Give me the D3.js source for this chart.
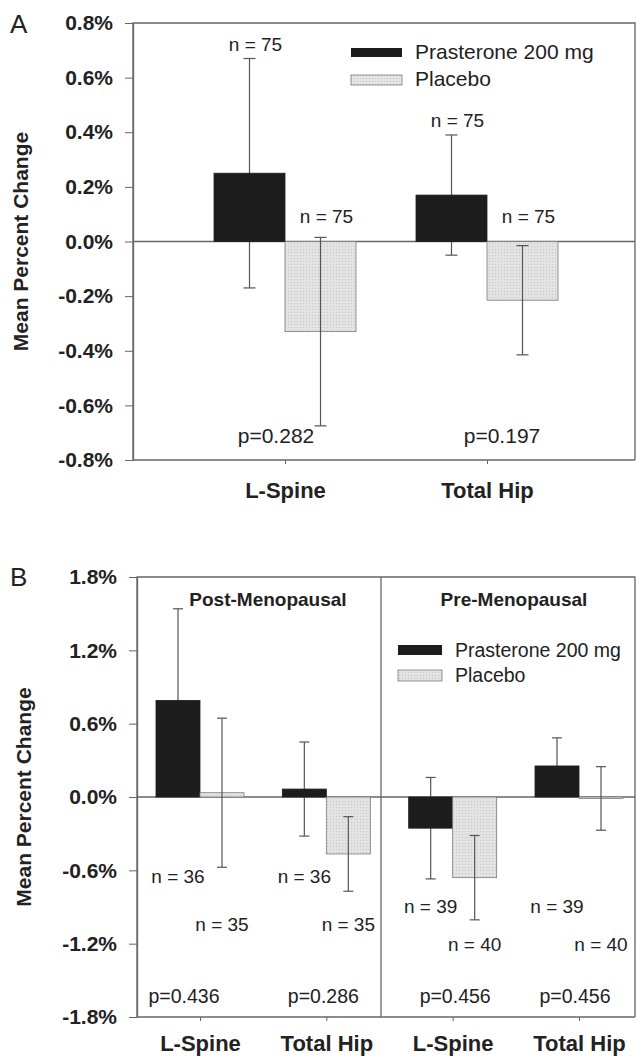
<!DOCTYPE html>
<html>
<head>
<meta charset="utf-8">
<script src="https://cdn.jsdelivr.net/npm/d3@7"></script>
<style>
  body { margin: 0; background: #fff; }
  svg { display: block; font-family: "Liberation Sans", Arial, sans-serif; }
</style>
</head>
<body>
<div id="chart"></div>
<script>
// panel A data
var catsA = ["L-Spine", "Total Hip"];
var prasA = [0.25, 0.17];
var prasErrA = [0.42, 0.22];
var placA = [-0.33, -0.215];
var placErrA = [0.345, 0.2];
var nPrasA = [75, 75];
var nPlacA = [75, 75];
var pA = ["p=0.282", "p=0.197"];
var ticksA = [0.8, 0.6, 0.4, 0.2, 0.0, -0.2, -0.4, -0.6, -0.8];

// panel B data
var groupsB = ["Post-Menopausal", "Pre-Menopausal"];
var catsB = ["L-Spine", "Total Hip", "L-Spine", "Total Hip"];
var prasB = [0.79, 0.065, -0.255, 0.254];
var prasErrB = [0.75, 0.385, 0.415, 0.23];
var placB = [0.035, -0.466, -0.66, -0.012];
var placErrB = [0.61, 0.305, 0.345, 0.26];
var nPrasB = [36, 36, 39, 39];
var nPlacB = [35, 35, 40, 40];
var pB = ["p=0.436", "p=0.286", "p=0.456", "p=0.456"];
var ticksB = [1.8, 1.2, 0.6, 0.0, -0.6, -1.2, -1.8];

var legendLabels = ["Prasterone 200 mg", "Placebo"];

var ink = "#222";
var frame = "#666";
var barBlack = "#1d1d1d";

var svg = d3.select("#chart").append("svg")
    .attr("width", 636)
    .attr("height", 1058);

// dotted grey fill of the placebo bars
var pat = svg.append("defs").append("pattern")
    .attr("id", "placebo")
    .attr("width", 3).attr("height", 3)
    .attr("patternUnits", "userSpaceOnUse");
pat.append("rect").attr("width", 3).attr("height", 3).attr("fill", "#e3e3e3");
pat.append("rect").attr("width", 1).attr("height", 1).attr("fill", "#c6c6c6");

// plain hyphen for negatives, like the original figure
var fmt = d3.formatLocale({decimal: ".", thousands: ",", grouping: [3], currency: ["", ""], minus: "-"}).format(".1f");
function pct(d) { return fmt(d) + "%"; }

function drawFrame(g, x0, x1, y0, y1) {
  g.append("path")
    .attr("d", `M${x0},${y1}V${y0}H${x1}V${y1}`)
    .attr("fill", "none").attr("stroke", frame).attr("stroke-width", 1.3);
}

function yAxis(g, y, ticks, x0) {
  var ax = g.append("g")
    .attr("transform", `translate(${x0},0)`)
    .call(d3.axisLeft(y).tickValues(ticks).tickFormat(pct).tickSize(8).tickSizeOuter(0).tickPadding(12));
  ax.select(".domain").attr("stroke", frame).attr("stroke-width", 1.3);
  ax.selectAll(".tick line").attr("stroke", frame);
  ax.selectAll("text").attr("fill", ink).attr("font-size", 21).attr("font-weight", "bold")
    .attr("font-family", "Liberation Sans, Arial, sans-serif");
}

function xAxis(g, x, yPos, labels, pad) {
  var ax = g.append("g")
    .attr("transform", `translate(0,${yPos})`)
    .call(d3.axisBottom(x).tickSize(4).tickSizeOuter(0).tickPadding(pad).tickFormat((d, i) => labels[i]));
  ax.select(".domain").remove();
  ax.selectAll(".tick line").attr("stroke", frame);
  ax.selectAll("text").attr("fill", ink).attr("font-size", 22).attr("font-weight", "bold")
    .attr("font-family", "Liberation Sans, Arial, sans-serif");
}

function errorBars(g, x, y, vals, errs, w, offset, capW) {
  var eb = g.selectAll(null).data(vals).enter().append("g")
    .attr("stroke", "#555").attr("stroke-width", 1.2);
  eb.append("line")
    .attr("x1", (d, i) => x(i) + offset + w / 2).attr("x2", (d, i) => x(i) + offset + w / 2)
    .attr("y1", (d, i) => y(d + errs[i])).attr("y2", (d, i) => y(d - errs[i]));
  [1, -1].forEach(function(s) {
    eb.append("line")
      .attr("x1", (d, i) => x(i) + offset + w / 2 - capW / 2)
      .attr("x2", (d, i) => x(i) + offset + w / 2 + capW / 2)
      .attr("y1", (d, i) => y(d + s * errs[i])).attr("y2", (d, i) => y(d + s * errs[i]));
  });
}

function bars(g, x, y, vals, w, offset, fill) {
  g.selectAll(null).data(vals).enter().append("rect")
    .attr("x", (d, i) => x(i) + offset)
    .attr("width", w)
    .attr("y", d => y(Math.max(d, 0)))
    .attr("height", d => Math.max(1.5, Math.abs(y(d) - y(0))))
    .attr("fill", fill)
    .attr("stroke", fill === barBlack ? barBlack : "#7a7a7a")
    .attr("stroke-width", 0.8);
}

function label(g, x, y, txt, size, weight, anchor) {
  g.append("text")
    .attr("x", x).attr("y", y)
    .attr("text-anchor", anchor || "middle")
    .attr("font-size", size)
    .attr("font-weight", weight || "normal")
    .attr("fill", ink)
    .text(txt);
}

function legend(g, x, y, w, h, gap, size) {
  g.append("rect").attr("x", x).attr("y", y).attr("width", w).attr("height", h).attr("fill", barBlack);
  g.append("rect").attr("x", x).attr("y", y + gap).attr("width", w).attr("height", h + 1)
    .attr("fill", "url(#placebo)").attr("stroke", "#7a7a7a").attr("stroke-width", 0.8);
  label(g, x + w + 13, y + h + 2, legendLabels[0], size, "normal", "start");
  label(g, x + w + 13, y + gap + h + 2, legendLabels[1], size, "normal", "start");
}

// ---------------- Panel A ----------------
var gA = svg.append("g");
var leftA = 133, rightA = 635, topA = 23, botA = 460;

var yA = d3.scaleLinear().domain([-0.8, 0.8]).range([botA, topA]);
var xA = d3.scalePoint().domain(d3.range(catsA.length)).range([285, 487]);
var wA = 71;

gA.append("line").attr("x1", leftA).attr("x2", rightA).attr("y1", yA(0)).attr("y2", yA(0))
  .attr("stroke", frame).attr("stroke-width", 1.3);

// black bars hide their own whisker, the dotted ones let it show through
errorBars(gA, xA, yA, prasA, prasErrA, wA, -wA, 12);
bars(gA, xA, yA, prasA, wA, -wA, barBlack);
bars(gA, xA, yA, placA, wA, 0, "url(#placebo)");
errorBars(gA, xA, yA, placA, placErrA, wA, 0, 12);

drawFrame(gA, leftA, rightA, topA, botA);
gA.append("line").attr("x1", leftA).attr("x2", rightA).attr("y1", botA).attr("y2", botA)
  .attr("stroke", frame).attr("stroke-width", 1.3);
yAxis(gA, yA, ticksA, leftA);
xAxis(gA, xA, botA, catsA, 18);

var pShiftA = [-9, 15];
catsA.forEach(function(c, i) {
  var cx = xA(i);
  label(gA, cx - wA / 2 + 6, yA(prasA[i] + prasErrA[i]) - 8, "n = " + nPrasA[i], 19);
  label(gA, cx + wA / 2 + 6, yA(0) - 19, "n = " + nPlacA[i], 19);
  label(gA, cx + pShiftA[i], botA - 17, pA[i], 21);
});

legend(gA, 351, 48, 51, 9, 27, 21);

label(gA, 10, 33, "A", 26, "normal", "start");
gA.append("text")
  .attr("transform", `translate(28,${yA(0)}) rotate(-90)`)
  .attr("text-anchor", "middle").attr("font-size", 21).attr("font-weight", "bold")
  .attr("fill", ink).text("Mean Percent Change");

// ---------------- Panel B ----------------
var gB = svg.append("g");
var leftB = 137, rightB = 635, topB = 577, botB = 1017, divB = 381;

var yB = d3.scaleLinear().domain([-1.8, 1.8]).range([botB, topB]);
var xB = d3.scalePoint().domain(d3.range(catsB.length)).range([200, 579]);
var wB = 44;

gB.append("line").attr("x1", leftB).attr("x2", rightB).attr("y1", yB(0)).attr("y2", yB(0))
  .attr("stroke", frame).attr("stroke-width", 1.3);

errorBars(gB, xB, yB, prasB, prasErrB, wB, -wB, 10);
bars(gB, xB, yB, prasB, wB, -wB, barBlack);
bars(gB, xB, yB, placB, wB, 0, "url(#placebo)");
errorBars(gB, xB, yB, placB, placErrB, wB, 0, 10);

drawFrame(gB, leftB, rightB, topB, botB);
gB.append("line").attr("x1", leftB).attr("x2", rightB).attr("y1", botB).attr("y2", botB)
  .attr("stroke", frame).attr("stroke-width", 1.3);
gB.append("line").attr("x1", divB).attr("x2", divB).attr("y1", topB).attr("y2", botB)
  .attr("stroke", frame).attr("stroke-width", 1.3);
yAxis(gB, yB, ticksB, leftB);
xAxis(gB, xB, botB, catsB, 14);

// n labels sit in two rows per sub-panel, p values along the bottom
var pShiftB = [-16, -3, 2.5, -4];
catsB.forEach(function(c, i) {
  var cx = xB(i);
  var post = i < 2;
  label(gB, cx - wB / 2, post ? 883 : 913, "n = " + nPrasB[i], 19);
  label(gB, cx + wB / 2, post ? 931 : 951, "n = " + nPlacB[i], 19);
  label(gB, cx + pShiftB[i], 1003, pB[i], 19.5);
});

label(gB, 268, 606, groupsB[0], 19, "bold");
label(gB, 514, 606, groupsB[1], 19, "bold");

legend(gB, 398, 645, 44, 10, 25, 19.5);

label(gB, 10, 586, "B", 26, "normal", "start");
gB.append("text")
  .attr("transform", `translate(31,${yB(0)}) rotate(-90)`)
  .attr("text-anchor", "middle").attr("font-size", 21).attr("font-weight", "bold")
  .attr("fill", ink).text("Mean Percent Change");
</script>
</body>
</html>
